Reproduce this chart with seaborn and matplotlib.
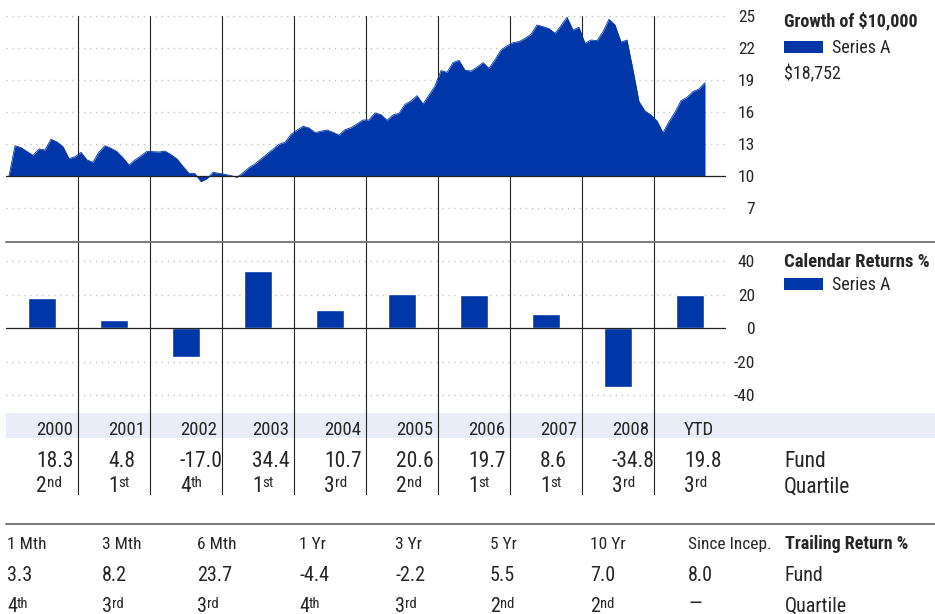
import numpy as np
import matplotlib
matplotlib.use("Agg")
import matplotlib.pyplot as plt
from matplotlib.patches import Rectangle
from matplotlib.lines import Line2D
import seaborn as sns

# ---------------- data ----------------
# Month-end value of $10,000 (in thousands), Jan 2000 onward
growth_values = [
    10.0, 12.84, 12.66, 12.3, 11.94, 12.53, 12.44, 13.44, 13.19, 12.75, 11.63, 11.81,
    12.22, 11.5, 11.28, 12.25, 12.84, 12.6, 12.28, 11.7, 11.03, 11.5, 11.9, 12.31,
    12.28, 12.25, 12.34, 12.0, 11.6, 10.9, 10.25, 10.22, 9.47, 9.75, 10.34, 10.25,
    10.15, 10.03, 9.88, 10.3, 10.78, 11.13, 11.6, 12.06, 12.5, 12.97, 13.16, 13.9,
    14.3, 14.66, 14.5, 14.06, 14.2, 14.31, 14.09, 13.84, 14.34, 14.53, 14.88, 15.25,
    15.25, 15.91, 15.75, 15.22, 15.72, 15.88, 16.72, 17.03, 17.53, 16.75, 17.59, 18.44,
    19.88, 19.72, 20.63, 20.84, 19.91, 19.84, 20.2, 20.63, 20.09, 20.9, 21.81, 22.2,
    22.5, 22.6, 22.9, 23.28, 24.16, 24.0, 23.81, 23.38, 24.1, 24.88, 23.69, 23.94,
    22.44, 22.75, 22.69, 23.53, 24.69, 24.16, 22.56, 22.75, 19.94, 16.97, 16.09, 15.72,
    15.16, 14.06, 15.09, 15.97, 17.06, 17.38, 17.91, 18.16, 18.752,
]
ending_value = 18752
growth_ticks = [7, 10, 13, 16, 19, 22, 25]

years = ["2000", "2001", "2002", "2003", "2004", "2005", "2006", "2007", "2008", "YTD"]
calendar_returns = [18.3, 4.8, -17.0, 34.4, 10.7, 20.6, 19.7, 8.6, -34.8, 19.8]
calendar_quartiles = ["2nd", "1st", "4th", "1st", "3rd", "2nd", "1st", "1st", "3rd", "3rd"]
calendar_ticks = [-40, -20, 0, 20, 40]

trailing_periods = ["1 Mth", "3 Mth", "6 Mth", "1 Yr", "3 Yr", "5 Yr", "10 Yr", "Since Incep."]
trailing_returns = [3.3, 8.2, 23.7, -4.4, -2.2, 5.5, 7.0, 8.0]
trailing_quartiles = ["4th", "3rd", "3rd", "4th", "3rd", "2nd", "2nd", "\u2014"]

# ---------------- style ----------------
sns.set_style("white")
FAMILY = ["Roboto Condensed", "Archivo Narrow", "DejaVu Sans"]
plt.rcParams["font.family"] = FAMILY
plt.rcParams["axes.unicode_minus"] = False

BLUE = "#0037a8"
INK = "#262626"
GRID = "#b8b8b8"
RULE = "#222222"
BAND = "#e9edf7"

W, H = 935, 614
fig = plt.figure(figsize=(W / 100, H / 100), dpi=100)


def fx(x):
    return x / W


def fy(y):
    return 1 - y / H


def put(x, y, s, size, bold=False, **kw):
    return fig.text(fx(x), fy(y), s, fontsize=size, color=INK, va="baseline", ha="left",
                    fontweight="bold" if bold else "normal", **kw)


def put_rank(ax, x, y, s, size, sup_size):
    if len(s) == 1:
        # no ranking available: a plain dash
        put(x, y - 1.5, s, size)
        return
    base = put(x, y, s[0], size)
    ax.annotate(s[1:], xy=(1, 1), xycoords=base, va="top", ha="left",
                fontsize=sup_size, color=INK, annotation_clip=False)


PLOT_L, PLOT_R = 6, 726
ax1 = fig.add_axes([fx(PLOT_L), fy(242), (PLOT_R - PLOT_L) / W, (242 - 16) / H])
ax2 = fig.add_axes([fx(PLOT_L), fy(495), (PLOT_R - PLOT_L) / W, (495 - 242) / H])
for ax in (ax1, ax2):
    ax.set_facecolor("none")
    for sp in ax.spines.values():
        sp.set_visible(False)

dotted = dict(color=GRID, lw=1.0, ls=(0, (0.8, 3.5)), zorder=1, clip_on=False)

# ---------------- growth of $10,000 ----------------
months = np.arange(len(growth_values)) + 0.5
sns.lineplot(x=months, y=growth_values, ax=ax1, color=BLUE, lw=0.6, zorder=3)
ax1.fill_between(months, growth_values, 10, color=BLUE, lw=0, zorder=3)
ax1.set_xlim(0, 120)
ax1.set_ylim(3.81, 25)
for t in growth_ticks:
    if t != 10:
        ax1.axhline(t, **dotted)
ax1.axhline(10, color=RULE, lw=0.9, zorder=4)
for k in range(1, 10):
    ax1.axvline(12 * k, color=RULE, lw=0.8, zorder=2)
ax1.set_xticks([])
ax1.yaxis.tick_right()
ax1.set_yticks(growth_ticks, [str(t) for t in growth_ticks], ha="right")
ax1.tick_params(axis="y", length=0, pad=21, labelsize=12.5, labelcolor=INK)
ax1.set_xlabel("")
ax1.set_ylabel("")

# ---------------- calendar returns ----------------
slots = np.arange(len(calendar_returns)) + 0.5
sns.barplot(x=slots, y=calendar_returns, ax=ax2, native_scale=True, orient="x",
            width=0.4, color=BLUE, saturation=1, errorbar=None, zorder=3)
ax2.set_xlim(0, 10)
ax2.set_ylim(-99.5, 51.5)
for t in calendar_ticks:
    if t != 0:
        ax2.axhline(t, **dotted)
ax2.axhline(0, color=RULE, lw=0.9, zorder=4)
for k in range(1, 10):
    ax2.axvline(k, color=RULE, lw=0.8, zorder=2)
ax2.axhspan(-50.7, -65.3, xmin=0, xmax=(W - PLOT_L) / (PLOT_R - PLOT_L),
            color=BAND, lw=0, zorder=0.5, clip_on=False)
ax2.set_xticks([])
ax2.yaxis.tick_right()
ax2.set_yticks(calendar_ticks, [str(t) for t in calendar_ticks], ha="right")
ax2.tick_params(axis="y", length=0, pad=21, labelsize=12.5, labelcolor=INK)
ax2.set_xlabel("")
ax2.set_ylabel("")

# ---------------- section rules ----------------
for yy in (242, 524):
    fig.add_artist(Line2D([fx(PLOT_L), 1], [fy(yy), fy(yy)], transform=fig.transFigure,
                          color="#7a7a7a", lw=1.4))

# ---------------- legends ----------------
put(784, 26, "Growth of $10,000", 13, bold=True)
fig.add_artist(Rectangle((fx(784), fy(52.7)), 39 / W, 11.4 / H, transform=fig.transFigure,
                         color=BLUE, lw=0))
put(832, 53.3, "Series A", 13)
put(784, 79.3, f"${ending_value:,}", 13)

put(784, 266.7, "Calendar Returns %", 13.5, bold=True)
fig.add_artist(Rectangle((fx(784), fy(290)), 39 / W, 11.7 / H, transform=fig.transFigure,
                         color=BLUE, lw=0))
put(832, 290, "Series A", 13)

# ---------------- calendar table ----------------
for i, (yr, r, q) in enumerate(zip(years, calendar_returns, calendar_quartiles)):
    x = PLOT_L + 72 * i + 30
    put(x, 435, yr, 13.5)
    put(x, 466.7, f"{r:.1f}", 15.5)
    put_rank(ax2, x, 492.3, q, 15.5, 11)
put(784, 466.7, "Fund", 15.5)
put(784, 492.3, "Quartile", 15.5)

# ---------------- trailing returns ----------------
trail_x = [7, 102, 197, 299, 395, 490, 590, 688]
for x, p, r, q in zip(trail_x, trailing_periods, trailing_returns, trailing_quartiles):
    put(x, 549.3, p, 12.5)
    put(x, 581, f"{r:.1f}", 14.5)
    put_rank(ax2, x, 611.5, q, 14.5, 10.5)
put(785, 549.3, "Trailing Return %", 13, bold=True)
put(785, 581, "Fund", 14.5)
put(785, 611.5, "Quartile", 14.5)

fig.savefig("out.png", dpi=100)
